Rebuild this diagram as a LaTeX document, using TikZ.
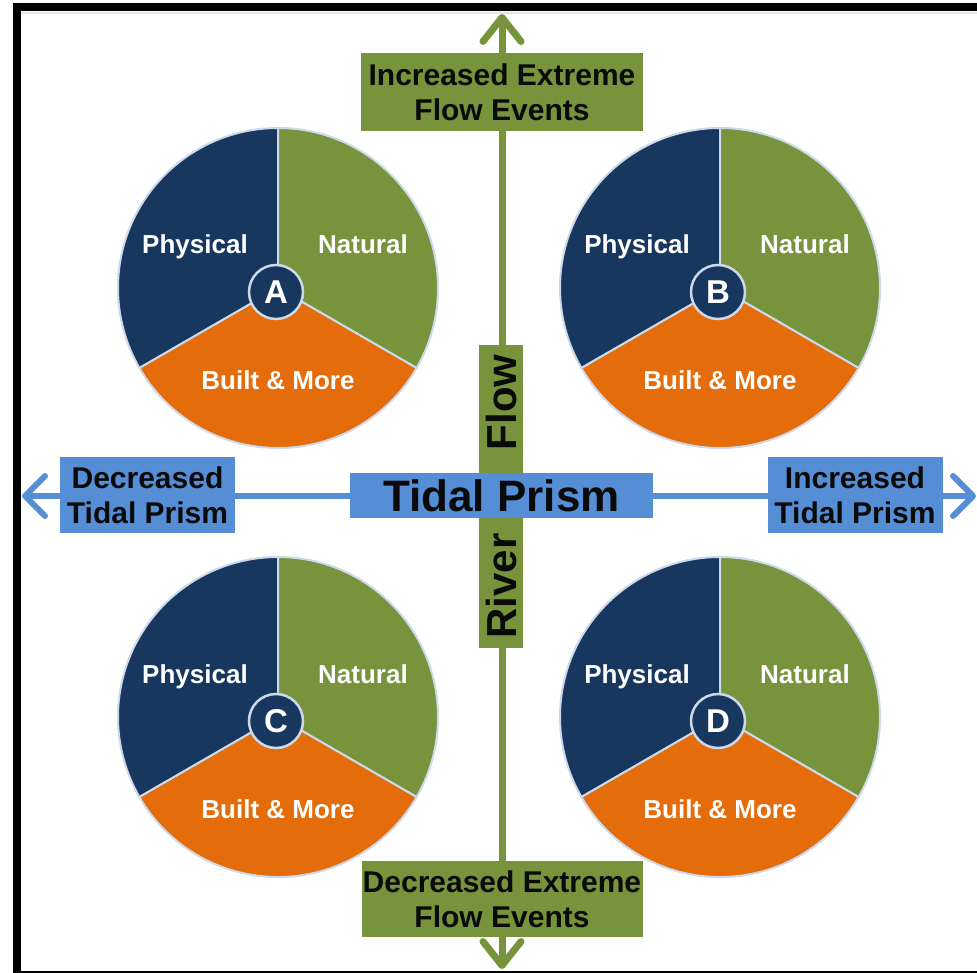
\documentclass[tikz,border=0pt]{standalone}
\usepackage{fontspec}
\setmainfont{Liberation Sans}
\usetikzlibrary{arrows.meta}
\definecolor{navy}{HTML}{17375E}
\definecolor{olivegr}{HTML}{77933C}
\definecolor{orng}{HTML}{E46C0A}
\definecolor{bluebox}{HTML}{558ED5}
\definecolor{edgecol}{HTML}{CCD9EA}
\definecolor{txt}{HTML}{0A0A0A}
\tikzset{
  greenaxis/.style={draw=olivegr, line width=7pt,
    arrows={Straight Barb[length=24pt,width=38pt,line width=7pt,round]-Straight Barb[length=24pt,width=38pt,line width=7pt,round]}},
  blueaxis/.style={draw=bluebox, line width=6pt,
    arrows={Straight Barb[length=20pt,width=40pt,line width=6pt,round]-Straight Barb[length=20pt,width=40pt,line width=6pt,round]}},
  greenbox/.style={fill=olivegr, text=txt, inner sep=0pt, align=center,
    font=\bfseries\fontsize{30}{35}\selectfont},
  bluelabel/.style={fill=bluebox, text=txt, inner sep=0pt, align=center,
    font=\bfseries\fontsize{30}{35}\selectfont, minimum width=175pt, minimum height=76pt},
  sector/.style={draw=edgecol, line width=2pt, line join=round},
  plabel/.style={text=white, font=\bfseries\fontsize{26}{30}\selectfont, anchor=base, inner sep=0pt},
  letterdisc/.style={circle, fill=navy, draw=edgecol, line width=2.5pt, text=white,
    minimum size=54pt, inner sep=0pt, font=\bfseries\fontsize{33}{35}\selectfont},
}
\begin{document}
\begin{tikzpicture}[x=1pt,y=1pt]
\useasboundingbox (0,0) rectangle (977,-973);
\fill[white] (0,0) rectangle (977,-973);
% frame
\fill[black] (13,-3) rectangle (977,-11);
\fill[black] (13,-3) rectangle (21,-973);
\fill[black] (13,-971) rectangle (977,-973);
\fill[black!10] (21,-12) rectangle (977,-14);

% pies
\foreach \cx/\cy/\L in {278/288/A, 720/288/B, 278/717/C, 720/717/D}{
  \begin{scope}[shift={(\cx,-\cy)}]
    \path[sector, fill=navy] (0,0) -- (90:160) arc (90:210:160) -- cycle;
    \path[sector, fill=olivegr] (0,0) -- (90:160) arc (90:-30:160) -- cycle;
    \path[sector, fill=orng] (0,0) -- (210:160) arc (210:330:160) -- cycle;
    \node[plabel] (phys\L) at (-83,34) {Physical};
    \node[plabel] (nat\L) at (85,34) {Natural};
    \node[plabel] (built\L) at (0,-101) {Built \& More};
    \node[letterdisc] (disc\L) at (-2,-4) {\L};
  \end{scope}
}

% axes
\coordinate (vtop) at (502,-14);
\coordinate (vbot) at (502,-969);
\coordinate (hl) at (22,-496);
\coordinate (hr) at (976,-496);
\draw[greenaxis] (vbot) -- (vtop);
\draw[blueaxis] (hl) -- (hr);

% boxes
\node[greenbox, minimum width=282pt, minimum height=78pt] (incflow) at (502,-92)
  {Increased Extreme\\Flow Events};
\node[greenbox, minimum width=281pt, minimum height=76pt] (decflow) at (502,-899)
  {Decreased Extreme\\Flow Events};
\node[bluelabel] (dectp) at (147.5,-495) {Decreased\\Tidal Prism};
\node[bluelabel] (inctp) at (855,-495) {Increased\\Tidal Prism};
\node[fill=olivegr, text=txt, inner sep=0pt, rotate=90, minimum width=303pt, minimum height=44pt,
  font=\bfseries\fontsize{42}{44}\selectfont] (river) at (501,-496.5) {River\hspace{83pt}Flow};
\node[fill=bluebox, text=txt, inner sep=0pt, minimum width=303pt, minimum height=45pt,
  font=\bfseries\fontsize{44}{46}\selectfont] (tidal) at (501.5,-495.5) {Tidal Prism};
\end{tikzpicture}
\end{document}
